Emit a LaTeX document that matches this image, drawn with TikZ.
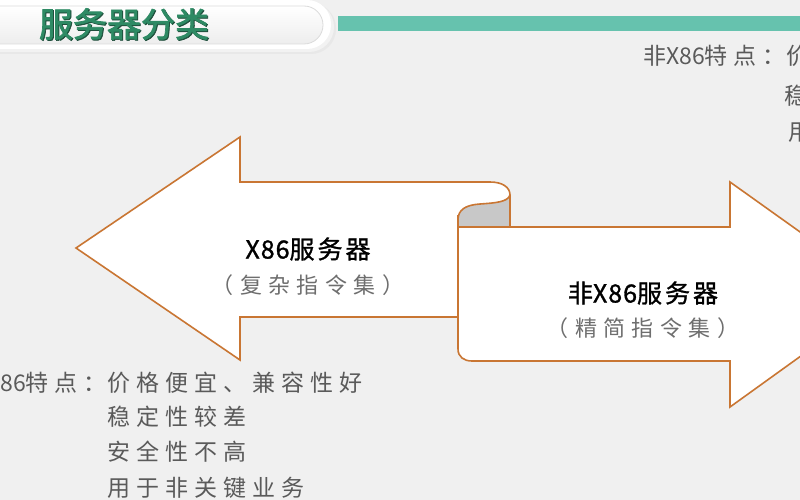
\documentclass[tikz,border=0pt]{standalone}
\usepackage{fontspec}
\newfontfamily\cjk{Noto Sans CJK SC}
\newfontfamily\cjksp[LetterSpace=26]{Noto Sans CJK SC}
\newfontfamily\cjksub[LetterSpace=29]{Noto Sans CJK SC}
\newfontfamily\cjkhead[LetterSpace=12,FakeBold=1.2]{Noto Sans CJK SC}
\newfontfamily\cjkheadlat[LetterSpace=4,FakeBold=1.2]{Noto Sans CJK SC}
\newfontfamily\cjktitle[FakeBold=2]{Noto Sans CJK SC}
\definecolor{bgc}{HTML}{F0F0F0}
\definecolor{edge}{HTML}{C97633}
\definecolor{curl}{HTML}{C8C8C8}
\definecolor{teal}{HTML}{66C2AE}
\definecolor{titlegreen}{HTML}{2E8A64}
\definecolor{titledark}{HTML}{1F4F3C}
\definecolor{bodytext}{HTML}{5A5A5A}
\definecolor{subtext}{HTML}{6E6E6E}
\tikzset{
  shapebox/.style={fill=white, draw=edge, line width=1.6pt, line join=miter},
  curlbox/.style={fill=curl, draw=edge, line width=1.6pt, line join=round},
  headtext/.style={font=\cjkhead\fontsize{25}{28}\selectfont, text=black, inner sep=0pt},
  subtextstyle/.style={font=\cjksub\fontsize{22}{24}\selectfont, text=subtext, inner sep=0pt},
  featstyle/.style={font=\cjksp\fontsize{23}{27}\selectfont, text=bodytext, inner sep=0pt, anchor=base west},
  featlabel/.style={font=\cjksp\fontsize{23}{27}\selectfont, text=bodytext, inner sep=0pt, anchor=base east},
  titletext/.style={font=\cjktitle\fontsize{34}{36}\selectfont, inner sep=0pt}
}
\newcommand{\latin}[1]{{\cjk #1}}
\newcommand{\headlatin}[1]{{\cjkheadlat #1}}
\begin{document}
\begin{tikzpicture}[x=1pt,y=-1pt]
\useasboundingbox (0,0) rectangle (800,500);
\clip (0,0) rectangle (800,500);
\fill[bgc] (0,0) rectangle (800,500);

% title pill
\fill[black!9, rounded corners=25pt] (-40,3) rectangle (336,54);
\fill[black!5, rounded corners=25pt] (-40,2) rectangle (334,52);
\fill[white, rounded corners=24pt] (-40,0) rectangle (331,49);
\shade[top color=white, bottom color=black!7, draw=black!14, line width=0.8pt, rounded corners=19pt] (-40,6) rectangle (323,44);
\node[titletext, text=titledark] (titleshadow) at (125,25) {服务器分类};
\node[titletext, text=titlegreen] (title) at (124,24) {服务器分类};
% teal bar
\fill[teal] (338,16) rectangle (800,31);

% left arrow
\path[shapebox] (76,248) -- (240,137) -- (240,182) -- (490,182)
  .. controls (502,182) and (510,187) .. (510,195) -- (510,317)
  -- (240,317) -- (240,360) -- cycle;
% right arrow
\path[shapebox] (458,218) -- (458,349) .. controls (458,357) and (464,361) .. (472,361)
  -- (730,361) -- (730,407) -- (887,294) -- (730,182) -- (730,227)
  -- (458,227) -- cycle;
% curl
\path[curlbox] (510,195) .. controls (508,202) and (495,203) .. (480,204)
  .. controls (465,205) and (458,210) .. (458,220) -- (458,227) -- (510,227) -- cycle;
\draw[edge, line width=1.6pt] (458,215) -- (458,240);

% arrow texts
\node[headtext] (x86) at (308,249) {\headlatin{X86}服务器};
\node[subtextstyle] (x86sub) at (308,285) {（复杂指令集）};
\node[headtext] (nx86) at (643,293) {非\headlatin{X86}服务器};
\node[subtextstyle] (nx86sub) at (643,328) {（精简指令集）};

% bottom-left features
\node[featlabel] (lab1) at (107,391) {\latin{X86}特点：};
\node[featstyle] (l1) at (107,391) {价格便宜、兼容性好};
\node[featstyle] (l2) at (107,425) {稳定性较差};
\node[featstyle] (l3) at (107,460) {安全性不高};
\node[featstyle] (l4) at (107,496) {用于非关键业务};

% top-right features
\node[featlabel] (lab2) at (786,65) {非\latin{X86}特点：};
\node[featstyle] (r1) at (786,65) {价};
\node[featstyle] (r2) at (784,105) {稳};
\node[featstyle] (r3) at (788,140) {用};
\end{tikzpicture}
\end{document}
